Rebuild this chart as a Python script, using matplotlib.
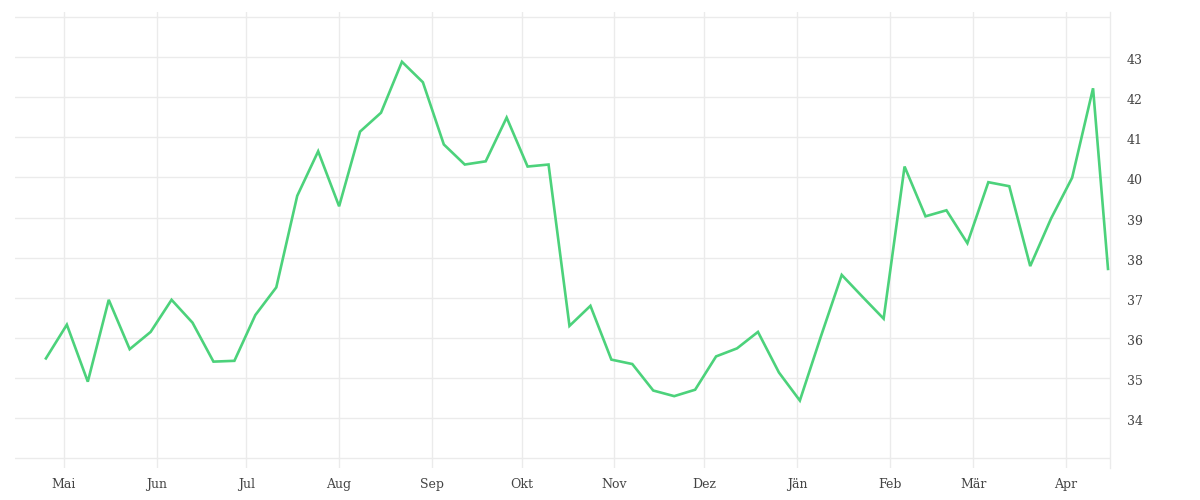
import matplotlib
matplotlib.use("Agg")
import matplotlib.pyplot as plt
import matplotlib.transforms as mtransforms
import datetime as dt

# Data
start_date = dt.date(2022, 4, 25)
n_weekly = 51
dates = [start_date + dt.timedelta(days=7 * i) for i in range(n_weekly)] + [dt.date(2023, 4, 15)]
values = [35.49, 36.33, 34.91, 36.95, 35.72, 36.15, 36.95, 36.38, 35.41, 35.43,
          36.57, 37.26, 39.54, 40.65, 39.28, 41.14, 41.61, 42.88, 42.37, 40.82,
          40.32, 40.40, 41.49, 40.27, 40.32, 36.30, 36.80, 35.46, 35.35, 34.69,
          34.55, 34.71, 35.54, 35.74, 36.15, 35.14, 34.44, 36.03, 37.57, 37.02,
          36.48, 40.27, 39.03, 39.18, 38.36, 39.88, 39.78, 37.79, 38.98, 39.99,
          42.22, 37.72]
month_ticks = [dt.date(2022, m, 1) for m in range(5, 13)] + [dt.date(2023, m, 1) for m in range(1, 5)]
month_labels = ["Mai", "Jun", "Jul", "Aug", "Sep", "Okt", "Nov", "Dez", "Jän", "Feb", "Mär", "Apr"]
y_ticks = list(range(33, 45))
y_labels = ["" if t in (33, 44) else str(t) for t in y_ticks]

line_color = "#4cd27b"
grid_color = "#ebebeb"
text_color = "#444444"

plt.rcParams['font.family'] = ['DejaVu Serif']

fig = plt.figure(figsize=(12, 5), dpi=100)
ax = fig.add_axes([15 / 1200, 1 - 468 / 500, (1110 - 15) / 1200, (468 - 12) / 500])

ax.plot(dates, values, color=line_color, linewidth=1.9, solid_joinstyle='miter', zorder=3)

ax.set_xlim(dt.datetime(2022, 4, 14, 16), dt.datetime(2023, 4, 15, 16))
ax.set_ylim(32.76, 44.12)

ax.set_xticks(month_ticks)
ax.set_xticklabels(month_labels)
ax.set_yticks(y_ticks)
ax.set_yticklabels(y_labels)

ax.yaxis.tick_right()
ax.tick_params(axis='both', length=0, labelsize=9, colors=text_color)
ax.tick_params(axis='y', pad=12)
ax.tick_params(axis='x', pad=7)

# y labels sit slightly below their grid lines
offset = mtransforms.ScaledTranslation(0, -2 / 100, fig.dpi_scale_trans)
for lbl in ax.get_yticklabels():
    lbl.set_transform(lbl.get_transform() + offset)

ax.grid(True, color=grid_color, linewidth=1)
ax.set_axisbelow(True)
for side in ['top', 'left', 'bottom']:
    ax.spines[side].set_visible(False)
ax.spines['right'].set_color(grid_color)
ax.spines['right'].set_linewidth(1)

fig.savefig("out.png", dpi=100)
